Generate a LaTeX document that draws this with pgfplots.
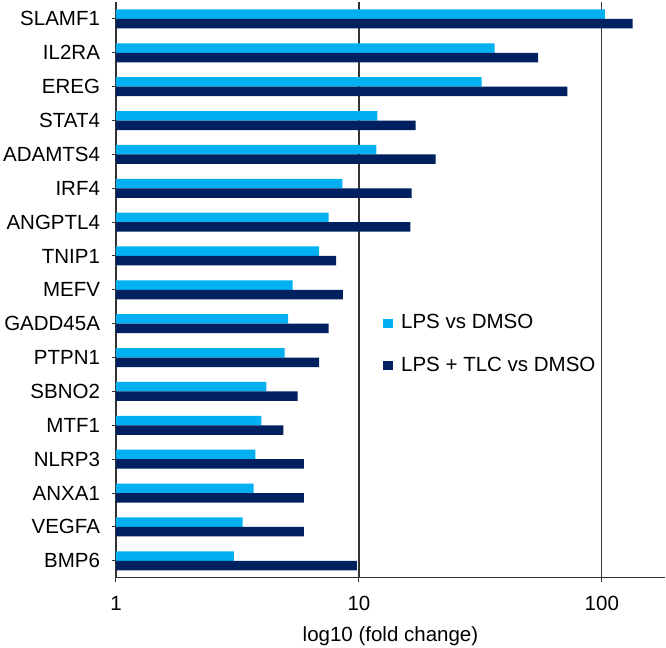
\documentclass[border=0pt]{standalone}
\usepackage{fontspec}
\setmainfont{Liberation Sans}
\usepackage{pgfplots}
\pgfplotsset{compat=1.18}
\definecolor{lps}{HTML}{00B0F0}
\definecolor{tlc}{HTML}{002060}
\definecolor{axc}{HTML}{333333}
\begin{document}
\fontsize{20.5bp}{24bp}\selectfont
\begin{tikzpicture}[font=\fontsize{20.5bp}{24bp}\selectfont]
\begin{axis}[
  scale only axis, width=549bp, height=575.7bp,
  xmode=log, xmin=1, xmax=182, ymin=-0.5, ymax=16.5,
  xbar, bar width=9.5bp,
  axis x line*=bottom, axis y line*=left,
  xtick pos=bottom, ytick pos=left,
  axis line style={draw=axc, line width=1.3bp},
  xtick={1,10,100}, xticklabels={1,10,100}, xminorticks=false,
  xmajorgrids, major grid style={draw=axc, line width=1.3bp},
  ytick={0,...,16},
  yticklabels={BMP6,VEGFA,ANXA1,NLRP3,MTF1,SBNO2,PTPN1,GADD45A,MEFV,TNIP1,ANGPTL4,IRF4,ADAMTS4,STAT4,EREG,IL2RA,SLAMF1},
  tick align=outside, major tick length=4bp,
  tick style={draw=axc, line width=1bp},
  /pgf/number format/assume math mode=true,
  xticklabel style={anchor=base, yshift=-29bp},
  yticklabel style={xshift=-5bp},
  xlabel={log10 (fold change)},
  xlabel style={at={(axis description cs:0.5,0)}, anchor=center, yshift=-58.8bp},
  legend style={draw=none, fill=none, at={(0.4863,0.461)}, anchor=north west, inner sep=0pt, row sep=21bp, font=\fontsize{20.5bp}{24bp}\selectfont},
  legend cell align=left,
  legend image code/.code={\path[#1,/tikz/.cd,draw=none] (0bp,-4.5bp) rectangle (10bp,4.5bp); \path (16bp,0bp);},
]
\addplot[fill=lps, draw=none, bar shift=4.75bp] coordinates {
(3.06,0) (3.32,1) (3.69,2) (3.75,3) (3.97,4) (4.16,5) (4.95,6) (5.11,7) (5.34,8) (6.86,9) (7.5,10) (8.55,11) (11.8,12) (11.9,13) (32,14) (36.2,15) (102.8,16)
};
\addlegendentry{LPS vs DMSO}
\addplot[fill=tlc, draw=none, bar shift=-4.75bp] coordinates {
(9.8,0) (5.93,1) (5.93,2) (5.93,3) (4.89,4) (5.59,5) (6.86,6) (7.5,7) (8.58,8) (8.05,9) (16.3,10) (16.5,11) (20.7,12) (17.1,13) (72.2,14) (54.7,15) (134,16)
};
\addlegendentry{LPS + TLC vs DMSO}
\coordinate (sw) at (rel axis cs:0,0);
\end{axis}
\pgfresetboundingbox
\path (sw) ++(-116bp,-70.3bp) rectangle ++(666bp,648bp);
\end{tikzpicture}
\end{document}
